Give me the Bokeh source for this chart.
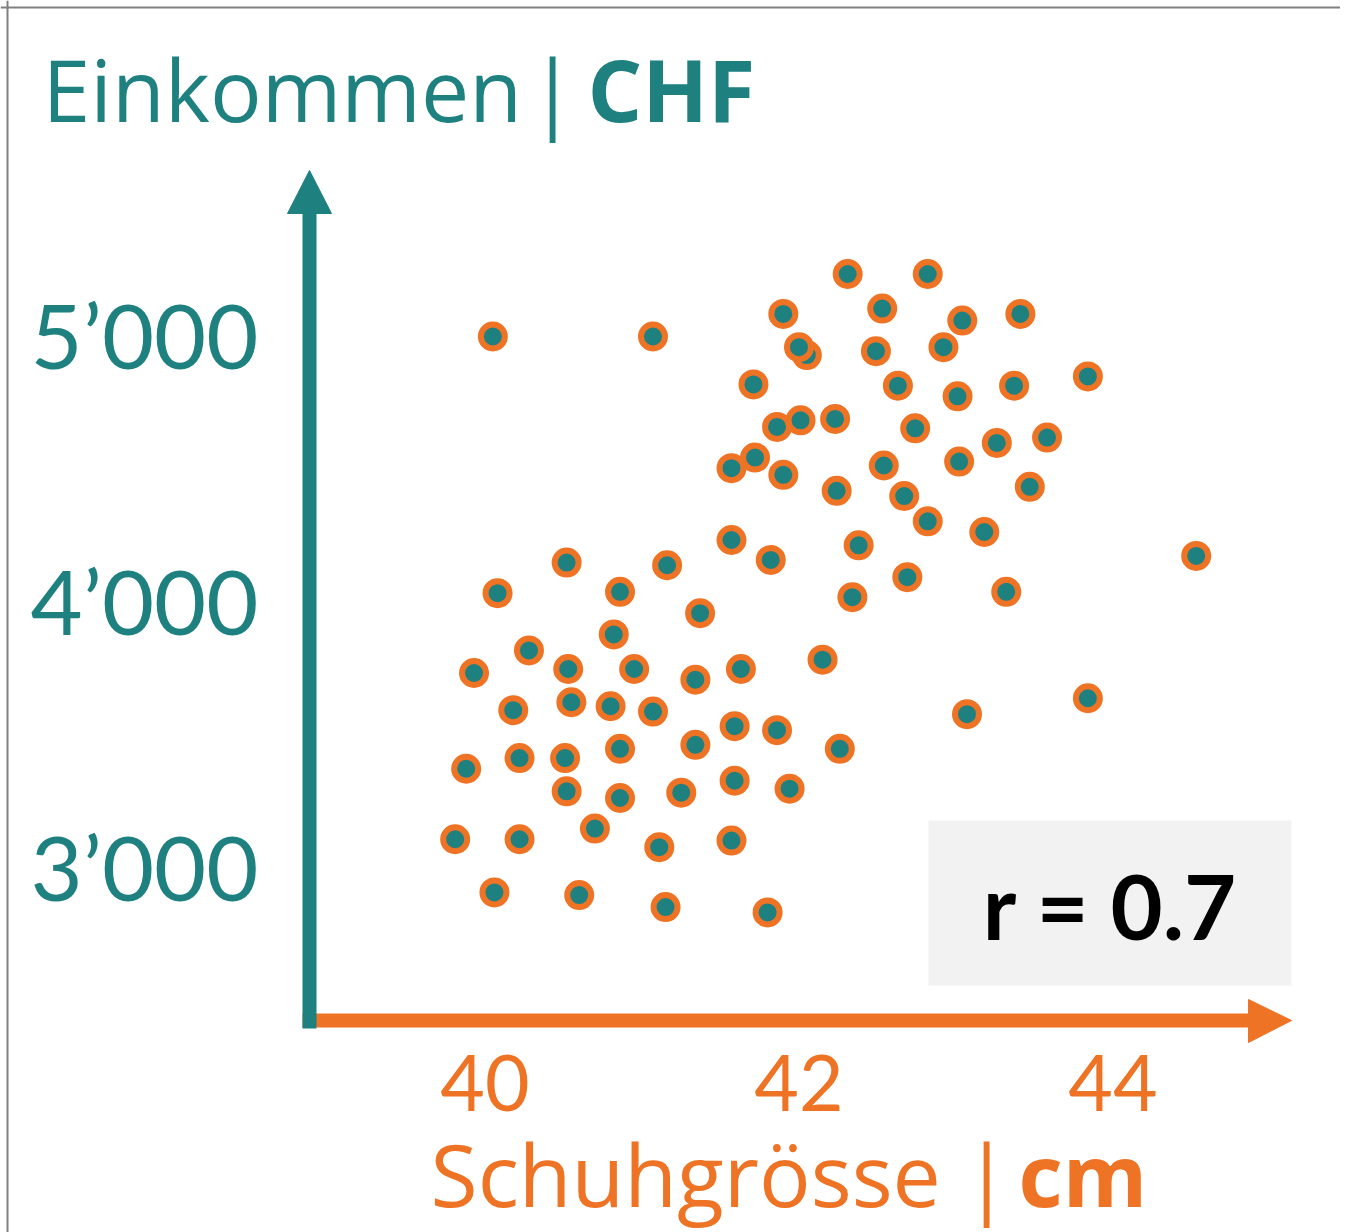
from bokeh.plotting import figure
from bokeh.models import Range1d, Span, BoxAnnotation, ColumnDataSource
from bokeh.core.properties import value
from bokeh.embed import file_html
from bokeh.resources import INLINE

# ---------------- data ----------------
shoe_size = [40.05, 41.07, 41.90, 42.05, 42.00, 41.71, 41.86, 42.01, 41.72, 41.57,
             41.90, 41.57, 41.82, 40.52, 41.16, 40.08, 40.86, 42.31, 42.82, 42.53,
             43.04, 43.41, 42.49, 42.92, 42.63, 43.01, 43.37, 43.84, 42.23, 42.74,
             43.26, 43.58, 42.54, 43.02, 42.24, 42.67, 43.47, 42.82, 43.18, 42.38,
             44.53, 42.69, 42.34, 43.32, 41.37, 40.82, 40.28, 39.93, 40.53, 40.95,
             41.34, 41.63, 42.15, 40.18, 40.55, 40.80, 41.07, 41.59, 41.86, 39.88,
             40.22, 40.51, 40.86, 41.34, 40.52, 40.86, 41.25, 41.59, 41.94, 39.81,
             40.22, 40.70, 41.11, 41.57, 40.06, 40.60, 41.15, 41.80, 43.07, 43.84,
             42.26]
income = [5000, 5000, 5085, 4930, 4960, 4820, 4660, 4685, 4545, 4505,
          4480, 4235, 4160, 4150, 4140, 4035, 4040, 5235, 5235, 5105,
          5060, 5085, 4945, 4960, 4815, 4775, 4815, 4850, 4690, 4655,
          4600, 4620, 4515, 4530, 4420, 4400, 4435, 4305, 4265, 4215,
          4175, 4095, 4020, 4040, 3960, 3880, 3820, 3735, 3750, 3750,
          3710, 3750, 3785, 3595, 3625, 3610, 3590, 3535, 3520, 3375,
          3415, 3415, 3450, 3465, 3290, 3265, 3285, 3330, 3300, 3110,
          3110, 3150, 3080, 3105, 2910, 2900, 2855, 2835, 3580, 3640,
          3450]
x_ticks = [40, 42, 44]
y_ticks = [3000, 4000, 5000]
y_title = "Einkommen"
y_unit = "CHF"
x_title = "Schuhgrösse"
x_unit = "cm"
sep = "|"
r_label = "r = 0.7"

# ---------------- style / layout ----------------
TEAL = "#1F8080"
ORANGE = "#EE7324"
NUM_FONT = "Lato"
TITLE_FONT = "Open Sans"
W, H = 1340, 1232
PXU_X = 157.0      # pixels per shoe size unit
PXU_Y = 0.266      # pixels per CHF
X0_PX, Y0_PX = 484.5, 336.0   # pixel position of (40, 5000)
XR = (40 - X0_PX / PXU_X, 40 + (W - X0_PX) / PXU_X)
YR = (5000 - (H - Y0_PX) / PXU_Y, 5000 + Y0_PX / PXU_Y)
K = 0.40           # baseline correction (fraction of font size)


def fx(px):
    return XR[0] + px / PXU_X


def fy(py):
    return YR[1] - py / PXU_Y


p = figure(width=W, height=H, x_range=Range1d(*XR), y_range=Range1d(*YR),
           x_axis_location=None, y_axis_location=None,
           toolbar_location=None, output_backend="svg",
           min_border=0, outline_line_color=None,
           background_fill_color="white", border_fill_color="white")
p.grid.visible = False

# page border (top & left)
p.add_layout(Span(location=fx(7), dimension="height", line_color="#808080", line_width=2))
p.add_layout(Span(location=fy(7), dimension="width", line_color="#808080", line_width=2))

# r box
p.add_layout(BoxAnnotation(left=fx(928), right=fx(1291), top=fy(820), bottom=fy(985),
                           fill_color="#F2F2F2", fill_alpha=1, line_color=None, level="underlay"))

# x axis arrow (orange)
p.segment(x0=[fx(302)], y0=[fy(1020)], x1=[fx(1250)], y1=[fy(1020)],
          line_color=ORANGE, line_width=14, line_cap="butt")
p.patch([fx(1248), fx(1291), fx(1248)], [fy(999), fy(1020), fy(1042)],
        fill_color=ORANGE, line_color=ORANGE, line_width=1)
# y axis arrow (teal)
p.segment(x0=[fx(309)], y0=[fy(1028)], x1=[fx(309)], y1=[fy(212)],
          line_color=TEAL, line_width=14, line_cap="butt")
p.patch([fx(287), fx(309), fx(331)], [fy(213), fy(170), fy(213)],
        fill_color=TEAL, line_color=TEAL, line_width=1)

# scatter points
src = ColumnDataSource(dict(x=shoe_size, y=income))
p.scatter("x", "y", source=src, size=24, fill_color=TEAL,
          line_color=ORANGE, line_width=6)


def label(x, y, txt, size, color, align="left", bold=False, dy=0, font=NUM_FONT):
    p.text(x=x, y=y, text=txt, text_font=value(font),
           text_font_size=f"{size}px", text_color=color, text_align=align,
           text_font_style="bold" if bold else "normal",
           text_baseline="alphabetic", y_offset=dy - K * size)


# y tick labels (baseline 33px below tick)
ylab = [f"{v // 1000}\u2019{v % 1000:03d}" for v in y_ticks]
label([fx(258)] * len(y_ticks), y_ticks, ylab, 90, TEAL, align="right", dy=33)
# x tick labels
label(x_ticks, [fy(1113)] * len(x_ticks), [str(v) for v in x_ticks], 77, ORANGE, align="center")

# titles
label([fx(42)], [fy(122)], [y_title], 86, TEAL, font=TITLE_FONT)
label([fx(552)], [fy(122)], [sep], 86, TEAL, align="center", font=TITLE_FONT)
label([fx(587)], [fy(122)], [y_unit], 86, TEAL, bold=True, font=TITLE_FONT)
label([fx(430)], [fy(1207)], [x_title], 86, ORANGE, font=TITLE_FONT)
label([fx(986)], [fy(1207)], [sep], 86, ORANGE, align="center", font=TITLE_FONT)
label([fx(1018)], [fy(1207)], [x_unit], 86, ORANGE, bold=True, font=TITLE_FONT)

# correlation label
label([fx(1110)], [fy(940)], [r_label], 90, "black", align="center", bold=True)

open("out.html", "w").write(file_html(p, INLINE))
